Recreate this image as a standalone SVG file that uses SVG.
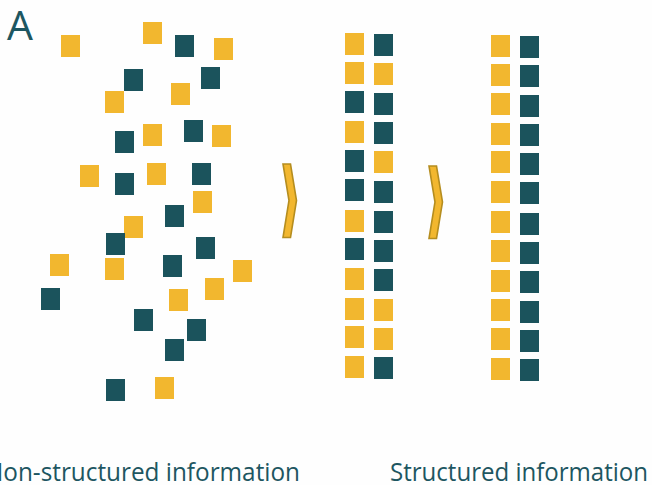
<svg xmlns="http://www.w3.org/2000/svg" width="652" height="485" viewBox="0 0 652 485">
  <defs>
    <style>
      .y { fill: #F2B72F; }
      .d { fill: #1B535C; }
      .chev { fill: #F2B72F; stroke: #B58D1F; stroke-width: 1.6; stroke-linejoin: miter; }
      .lbl { font-family: "Open Sans", "Noto Sans", sans-serif; fill: #1D5661; }
    </style>
    <rect id="sq" width="19" height="22"/>
  </defs>
  <rect width="652" height="485" fill="#FEFEFE"/>

  <text class="lbl" x="7" y="40" font-size="41">A</text>

  <!-- scattered, unordered squares -->
  <g id="scatter">
    <use href="#sq" class="y" x="61" y="35"/>
    <use href="#sq" class="y" x="143" y="22"/>
    <use href="#sq" class="d" x="175" y="35"/>
    <use href="#sq" class="y" x="214" y="38"/>
    <use href="#sq" class="d" x="124" y="69"/>
    <use href="#sq" class="d" x="201" y="67"/>
    <use href="#sq" class="y" x="105" y="91"/>
    <use href="#sq" class="y" x="171" y="83"/>
    <use href="#sq" class="d" x="115" y="131"/>
    <use href="#sq" class="y" x="143" y="124"/>
    <use href="#sq" class="d" x="184" y="120"/>
    <use href="#sq" class="y" x="212" y="125"/>
    <use href="#sq" class="y" x="80" y="165"/>
    <use href="#sq" class="d" x="115" y="173"/>
    <use href="#sq" class="y" x="147" y="163"/>
    <use href="#sq" class="d" x="192" y="163"/>
    <use href="#sq" class="y" x="193" y="191"/>
    <use href="#sq" class="d" x="165" y="205"/>
    <use href="#sq" class="y" x="124" y="216"/>
    <use href="#sq" class="d" x="106" y="233"/>
    <use href="#sq" class="d" x="196" y="237"/>
    <use href="#sq" class="y" x="50" y="254"/>
    <use href="#sq" class="y" x="105" y="258"/>
    <use href="#sq" class="d" x="163" y="255"/>
    <use href="#sq" class="y" x="233" y="260"/>
    <use href="#sq" class="y" x="205" y="278"/>
    <use href="#sq" class="d" x="41" y="288"/>
    <use href="#sq" class="y" x="169" y="289"/>
    <use href="#sq" class="d" x="134" y="309"/>
    <use href="#sq" class="d" x="187" y="319"/>
    <use href="#sq" class="d" x="165" y="339"/>
    <use href="#sq" class="d" x="106" y="379"/>
    <use href="#sq" class="y" x="155" y="377"/>
  </g>

  <!-- first arrangement: two columns, mixed -->
  <g id="columns-mixed">
    <use href="#sq" class="y" x="345" y="33"/>
    <use href="#sq" class="y" x="345" y="62"/>
    <use href="#sq" class="d" x="345" y="91"/>
    <use href="#sq" class="y" x="345" y="121"/>
    <use href="#sq" class="d" x="345" y="150"/>
    <use href="#sq" class="d" x="345" y="179"/>
    <use href="#sq" class="y" x="345" y="210"/>
    <use href="#sq" class="d" x="345" y="238"/>
    <use href="#sq" class="y" x="345" y="268"/>
    <use href="#sq" class="y" x="345" y="298"/>
    <use href="#sq" class="y" x="345" y="326"/>
    <use href="#sq" class="y" x="345" y="356"/>

    <use href="#sq" class="d" x="374" y="34"/>
    <use href="#sq" class="y" x="374" y="63"/>
    <use href="#sq" class="d" x="374" y="93"/>
    <use href="#sq" class="d" x="374" y="122"/>
    <use href="#sq" class="y" x="374" y="151"/>
    <use href="#sq" class="d" x="374" y="181"/>
    <use href="#sq" class="d" x="374" y="211"/>
    <use href="#sq" class="d" x="374" y="240"/>
    <use href="#sq" class="d" x="374" y="269"/>
    <use href="#sq" class="y" x="374" y="299"/>
    <use href="#sq" class="y" x="374" y="328"/>
    <use href="#sq" class="d" x="374" y="357"/>
  </g>

  <!-- second arrangement: sorted columns -->
  <g id="columns-sorted">
    <use href="#sq" class="y" x="491" y="35"/>
    <use href="#sq" class="y" x="491" y="64"/>
    <use href="#sq" class="y" x="491" y="93"/>
    <use href="#sq" class="y" x="491" y="123"/>
    <use href="#sq" class="y" x="491" y="151"/>
    <use href="#sq" class="y" x="491" y="181"/>
    <use href="#sq" class="y" x="491" y="211"/>
    <use href="#sq" class="y" x="491" y="240"/>
    <use href="#sq" class="y" x="491" y="270"/>
    <use href="#sq" class="y" x="491" y="299"/>
    <use href="#sq" class="y" x="491" y="328"/>
    <use href="#sq" class="y" x="491" y="358"/>

    <use href="#sq" class="d" x="520" y="36"/>
    <use href="#sq" class="d" x="520" y="65"/>
    <use href="#sq" class="d" x="520" y="95"/>
    <use href="#sq" class="d" x="520" y="124"/>
    <use href="#sq" class="d" x="520" y="153"/>
    <use href="#sq" class="d" x="520" y="182"/>
    <use href="#sq" class="d" x="520" y="213"/>
    <use href="#sq" class="d" x="520" y="242"/>
    <use href="#sq" class="d" x="520" y="271"/>
    <use href="#sq" class="d" x="520" y="301"/>
    <use href="#sq" class="d" x="520" y="330"/>
    <use href="#sq" class="d" x="520" y="359"/>
  </g>

  <!-- chevron arrows between stages -->
  <g id="connectors">
    <polygon class="chev" points="283,164 290.5,164 296.5,200.5 290.5,237.5 283,237.5 289,200.5"/>
    <polygon class="chev" points="429,166 436.5,166 442.5,202 436.5,238.5 429,238.5 435,202"/>
  </g>

  <text class="lbl" x="-15" y="481" font-size="26" textLength="315" lengthAdjust="spacingAndGlyphs">Non-structured information</text>
  <text class="lbl" x="390" y="481" font-size="26" textLength="258" lengthAdjust="spacingAndGlyphs">Structured information</text>
</svg>
